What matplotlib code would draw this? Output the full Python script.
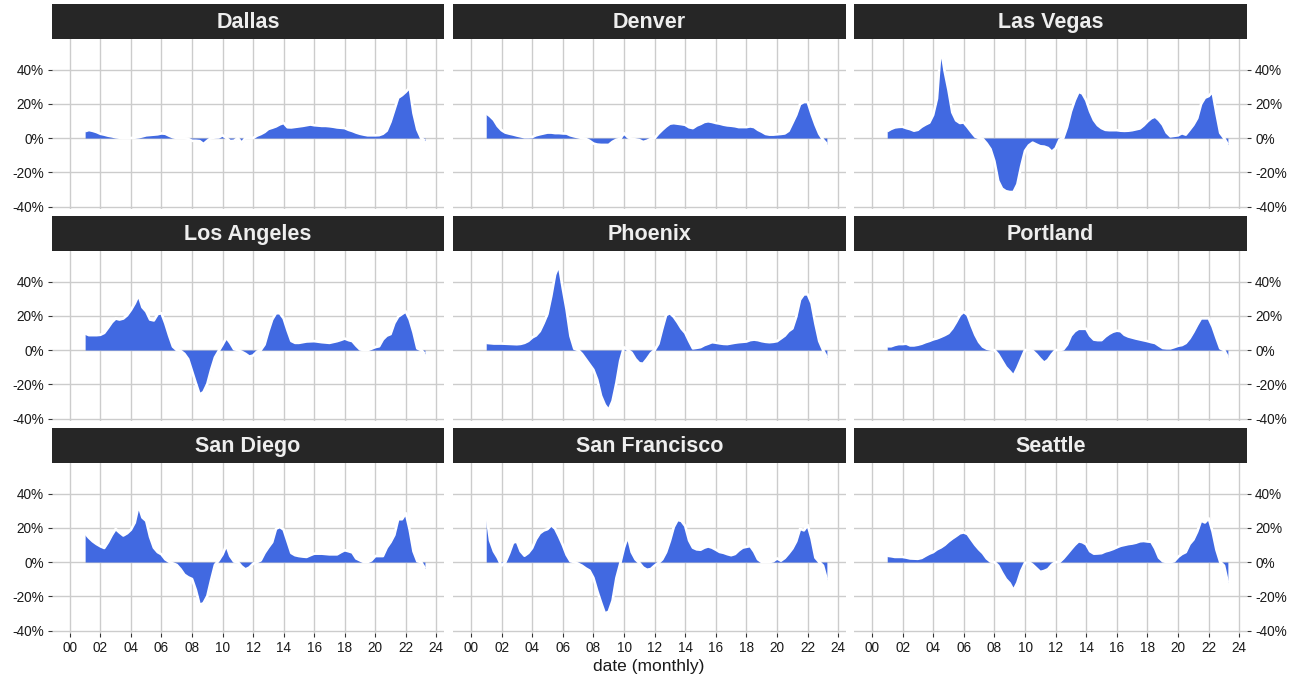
import numpy as np
import pandas as pd
import matplotlib
matplotlib.use("Agg")
import matplotlib.pyplot as plt

plt.rcParams['font.family'] = ['Liberation Sans', 'DejaVu Sans']

# ---------------- data (year-over-year change, %, quarterly readings) ----------------
cities = ["Dallas", "Denver", "Las Vegas",
          "Los Angeles", "Phoenix", "Portland",
          "San Diego", "San Francisco", "Seattle"]

dates = pd.date_range("2001-01-01", "2023-04-01", freq="QS")
x_years = np.array([d.year + (d.month - 1) / 12 for d in dates])

dallas = [
    4, 4.7, 4.2, 3.5,        # 2001
    2.5, 2, 1.4, 1,          # 2002
    0.5, 0.2, 0, 0,          # 2003
    0, 0.2, 0.5, 1,          # 2004
    1.6, 1.8, 2, 2.2,        # 2005
    2.7, 2.5, 1.4, 0.5,      # 2006
    0, 0, 0, -0.5,           # 2007
    -1.6, -1.6, -1.8, -3.5,  # 2008
    -1.6, 0, 0.3, 0.4,       # 2009
    1.6, 0, -1.8, -1.6,      # 2010
    0, -2.8, 0, 0,           # 2011
    0, 1.4, 2.3, 3.5,        # 2012
    5.3, 6, 6.8, 8,          # 2013
    8.8, 6.3, 6.2, 6.5,      # 2014
    6.8, 7.1, 7.5, 7.9,      # 2015
    7.5, 7.3, 7.1, 7.1,      # 2016
    6.9, 6.6, 6.2, 6,        # 2017
    5.8, 4.8, 4.1, 3.2,      # 2018
    2.5, 2, 1.6, 1.6,        # 2019
    1.6, 1.7, 2.5, 4.3,      # 2020
    9.5, 16.5, 23.5, 25,     # 2021
    27, 29.5, 14.5, 5,       # 2022
    0, -1.5,                 # 2023
]

denver = [
    14.5, 12.8, 10.6, 7,     # 2001
    4.6, 3.2, 2.6, 2.1,      # 2002
    1.5, 1, 0.5, 0.5,        # 2003
    0.6, 1.6, 2.2, 2.7,      # 2004
    3.2, 3.2, 2.9, 2.9,      # 2005
    2.7, 2.6, 1.6, 1,        # 2006
    0.5, 0, -0.5, -1.6,      # 2007
    -3.2, -3.8, -4, -4,      # 2008
    -4, -2.2, -1, -0.5,      # 2009
    2.8, 0.5, -0.5, -0.8,    # 2010
    -1.2, -2.3, -1.6, -0.5,  # 2011
    0, 2.6, 4.8, 6.8,        # 2012
    8.4, 8.7, 8.4, 8.1,      # 2013
    7.7, 6.3, 5.8, 7.3,      # 2014
    8.2, 9.4, 9.8, 9.4,      # 2015
    8.8, 8.4, 7.8, 7.4,      # 2016
    7.2, 6.9, 6.4, 6.4,      # 2017
    6.4, 6.8, 6.4, 4.8,      # 2018
    3.7, 2.4, 2, 2,          # 2019
    2.2, 2.4, 2.7, 4.2,      # 2020
    8.8, 13.5, 19.8, 21,     # 2021
    21, 14, 7.8, 2.5,        # 2022
    -1, -3.5,                # 2023
]

las_vegas = [
    4, 5.3, 6.2, 6.5,        # 2001
    6.6, 5.8, 5.2, 4.3,      # 2002
    4.8, 6.6, 7.9, 9,        # 2003
    13.5, 23, 53, 39,        # 2004
    28, 15, 10.3, 8.8,       # 2005
    9.1, 6.4, 3.5, 0.8,      # 2006
    0, -0.6, -3.2, -6.5,     # 2007
    -13.5, -25, -29.5, -31,  # 2008
    -31.5, -31.5, -27, -16.5,  # 2009
    -7.5, -4.3, -2.7, -3.8,  # 2010
    -4.8, -5, -5.8, -8,      # 2011
    -6, -1, 0, 6.5,          # 2012
    15.5, 22, 27, 26,        # 2013
    22, 15.5, 10.5, 7.5,     # 2014
    5.8, 4.8, 4.6, 4.6,      # 2015
    4.6, 4.3, 4.2, 4.3,      # 2016
    4.6, 5.1, 5.6, 7.4,      # 2017
    9.7, 11.6, 12.5, 10.5,   # 2018
    7.7, 3.2, 1, 1.3,        # 2019
    1.6, 2.8, 2, 4.8,        # 2020
    7.7, 11.6, 19.8, 23.5,   # 2021
    24.5, 27, 14.5, 3,       # 2022
    0, -3.8,                 # 2023
]

los_angeles = [
    9.7, 8.7, 8.7, 8.7,      # 2001
    8.9, 10, 13, 16.2,       # 2002
    18.4, 17.8, 18.4, 20.3,  # 2003
    23.4, 27.2, 32, 25,      # 2004
    22.5, 17.8, 17.3, 21,    # 2005
    21.5, 15.5, 8.4, 2,      # 2006
    0, -0.5, -2.2, -5.3,     # 2007
    -12.3, -19.3, -26, -24.5,  # 2008
    -19.8, -11.5, -4.3, -0.5,  # 2009
    3.2, 7.2, 4.2, 0.5,      # 2010
    0, -1, -2.2, -3.8,       # 2011
    -3.2, -1, 0, 3.2,        # 2012
    11, 17.8, 21.5, 21.5,    # 2013
    18.4, 11.5, 5.3, 4.2,    # 2014
    4.2, 4.6, 5, 5.1,        # 2015
    5.2, 4.9, 4.6, 4.4,      # 2016
    4.2, 4.7, 5.2, 5.9,      # 2017
    6.7, 5.8, 5.2, 2.6,      # 2018
    0.4, 0, 0, 0.8,          # 2019
    1.7, 2.2, 6.2, 8.4,      # 2020
    9.3, 15.7, 19.5, 21,     # 2021
    22.5, 17.8, 10.3, 1,     # 2022
    0, -2.2,                 # 2023
]

phoenix = [
    4.2, 4, 3.8, 3.8,        # 2001
    3.8, 3.7, 3.6, 3.5,      # 2002
    3.4, 3.6, 4.2, 5.3,      # 2003
    7.3, 8.5, 11, 15.7,      # 2004
    21, 31.5, 44, 49.5,      # 2005
    36, 23.5, 8.2, 0.8,      # 2006
    0, -2.2, -5.3, -8.4,     # 2007
    -11.5, -17.3, -26.7, -32,  # 2008
    -35, -29.8, -19.3, -6.3,   # 2009
    1.6, 0, -1.6, -5.3,      # 2010
    -7.7, -8, -5.2, -2,      # 2011
    0, 3.7, 12.4, 20.4,      # 2012
    21.5, 19.4, 16.2, 12.6,  # 2013
    10, 5.3, 1, 1.3,         # 2014
    1.7, 2.9, 3.7, 4.6,      # 2015
    4.3, 3.9, 3.6, 3.5,      # 2016
    3.9, 4.3, 4.6, 4.8,      # 2017
    5, 5.8, 6.1, 5.8,        # 2018
    5.2, 4.8, 4.6, 4.8,      # 2019
    5.2, 6.8, 8.4, 11,       # 2020
    12.6, 19.4, 29.4, 32.5,  # 2021
    32.5, 27.3, 15.4, 5.2,   # 2022
    0, -4.2,                 # 2023
]

portland = [
    2.2, 2.2, 3, 3.5,        # 2001
    3.5, 3.7, 2.7, 2.7,      # 2002
    3.1, 3.7, 4.6, 5.3,      # 2003
    6.2, 6.8, 7.7, 8.7,      # 2004
    9.9, 12.6, 16.3, 20.4,   # 2005
    22.3, 20.4, 14.4, 8.9,   # 2006
    4.7, 2, 0.8, 0.3,        # 2007
    0, -2.6, -6.3, -10,      # 2008
    -12.4, -15, -10.5, -5.2, # 2009
    0, 0, -0.5, -2.6,        # 2010
    -5.2, -7.4, -5.8, -2.6,  # 2011
    0, 0, 0.4, 3.2,          # 2012
    8.4, 11, 12.4, 12.4,     # 2013
    12.4, 8.4, 6.1, 5.8,     # 2014
    5.8, 7.9, 9.5, 10.7,     # 2015
    11.3, 11, 8.9, 7.9,      # 2016
    7.3, 6.7, 6.2, 5.7,      # 2017
    5.2, 4.6, 4.1, 2.6,      # 2018
    1.2, 1, 1, 1.7,          # 2019
    2.5, 2.9, 4.1, 6.8,      # 2020
    10.5, 14.7, 18.5, 18.5,  # 2021
    18.5, 13.7, 7.2, 1,      # 2022
    0, -4.1,                 # 2023
]

san_diego = [
    16.8, 14.2, 12.1, 10.5,  # 2001
    9.2, 8.2, 11.6, 15.8,    # 2002
    19.3, 17.3, 15.5, 16.8,  # 2003
    18.9, 23, 33, 26,        # 2004
    24, 14.7, 8.4, 5.8,      # 2005
    4.5, 1.6, 0.2, -0.8,     # 2006
    -1.7, -4.2, -7.4, -8.9,  # 2007
    -9.9, -16.3, -25, -24,   # 2008
    -19.9, -10.5, -1.7, 1,   # 2009
    4.5, 9.8, 3.5, 0.3,      # 2010
    0, -2.6, -4.3, -3.2,     # 2011
    -1, 0, 1, 5.3,           # 2012
    8.6, 11.6, 19.4, 20.5,   # 2013
    18.9, 12.1, 5.3, 4,      # 2014
    3.5, 3.2, 3, 4,          # 2015
    4.9, 4.9, 4.9, 4.7,      # 2016
    4.5, 4.5, 4.5, 5.8,      # 2017
    6.9, 6.3, 5.6, 2.1,      # 2018
    1, 0, 0, 1,              # 2019
    3.5, 3.5, 3.5, 8.4,      # 2020
    11.6, 15.8, 25, 25,      # 2021
    28.5, 18.9, 6.3, 0.5,    # 2022
    0, -3.7,                 # 2023
]

san_francisco = [
    29, 12.6, 6.3, 2.6,      # 2001
    -2.1, 0, 5.1, 11.3,      # 2002
    12, 6.3, 3.7, 5.3,       # 2003
    8.2, 13.3, 16.8, 18.4,   # 2004
    19.2, 21.5, 19.5, 15,    # 2005
    10, 4.2, 0.5, 0,         # 2006
    -1, -2.1, -3.7, -5,      # 2007
    -9.2, -16.8, -23.6, -30,  # 2008
    -29, -22.6, -9.4, -1,    # 2009
    8.4, 15, 5.8, 1.6,       # 2010
    -0.5, -3.2, -4.5, -4.1,  # 2011
    -2.1, -0.5, 1.6, 5.8,    # 2012
    12.4, 20.4, 24.6, 24,    # 2013
    21, 12.6, 8.4, 7.4,      # 2014
    7.2, 8.4, 9.1, 8.4,      # 2015
    7.2, 5.9, 5.4, 4.6,      # 2016
    4, 4.7, 6.8, 8.4,        # 2017
    8.9, 9.3, 6.1, 1.6,      # 2018
    0, 0, 0, 0.5,            # 2019
    2.1, 0.8, 2.4, 5,        # 2020
    7.9, 12.1, 19.4, 18.5,   # 2021
    21.6, 13.7, 2.6, 0,      # 2022
    -2.1, -10.3,             # 2023
]

seattle = [
    3.7, 3.4, 3, 3,          # 2001
    3, 2.6, 2.1, 2,          # 2002
    1.9, 2.4, 3.7, 4.9,      # 2003
    5.8, 7.4, 8.5, 10,       # 2004
    12, 13.7, 15.2, 16.8,    # 2005
    17.3, 16.3, 13.1, 10,    # 2006
    7.4, 5.2, 2.1, 0.3,      # 2007
    0, -2.1, -6.3, -10,      # 2008
    -12.4, -16.5, -12.1, -5.2,  # 2009
    -0.5, 0, -1.6, -3.7,     # 2010
    -5.8, -5.2, -4.2, -1.6,  # 2011
    0, 0, 2.1, 4.7,          # 2012
    7.4, 10, 12.1, 11.6,     # 2013
    10.3, 6.3, 4.9, 5,       # 2014
    5.2, 6.2, 6.8, 7.6,      # 2015
    8.6, 9.5, 10, 10.5,      # 2016
    10.8, 11.3, 12.1, 12.3,  # 2017
    12, 11.8, 7.9, 2.6,      # 2018
    0.5, 0, 0, 0.5,          # 2019
    3, 4.7, 5.8, 10.5,       # 2020
    13.1, 17.8, 24.2, 23.1,  # 2021
    25.5, 17.8, 7.2, 0,      # 2022
    -2.1, -12,               # 2023
]

series = [dallas, denver, las_vegas, los_angeles, phoenix, portland,
          san_diego, san_francisco, seattle]

y_ticks = [-40, -20, 0, 20, 40]
y_tick_labels = [f"{v}%" for v in y_ticks]
x_ticks = list(range(2000, 2025, 2))
x_tick_labels = [f"{t % 100:02d}" for t in x_ticks]

# ---------------- layout & style ----------------
W, H = 1300, 680
fig = plt.figure(figsize=(W / 100, H / 100), dpi=100)
fig.patch.set_facecolor("white")

col_x = [(52, 444), (453, 846), (854, 1247)]
row_y = [(39, 209), (251, 421), (463, 633)]
strip_h = 35

fill_color = "#4169E1"
grid_color = "#CCCCCC"
strip_color = "#262626"
tick_kw = dict(length=2.9, width=0.8, color="#333333",
               labelsize=9.8, labelcolor="#1A1A1A", pad=3)

for i, (city, vals) in enumerate(zip(cities, series)):
    r, c = divmod(i, 3)
    x0, x1 = col_x[c]
    y0, y1 = row_y[r]
    ax = fig.add_axes([x0 / W, 1 - y1 / H, (x1 - x0) / W, (y1 - y0) / H])
    sax = fig.add_axes([x0 / W, 1 - y0 / H, (x1 - x0) / W, strip_h / H])

    # strip
    sax.set_facecolor(strip_color)
    sax.set_xticks([])
    sax.set_yticks([])
    for s in sax.spines.values():
        s.set_visible(False)
    sax.text(0.5, 0.46, city, ha="center", va="center", color="#EEEEEE",
             fontsize=15.5, fontweight="bold", transform=sax.transAxes)

    # data
    xv = x_years[:len(vals)]
    yv = np.array(vals, dtype=float)
    ax.fill_between(xv, 0, yv, color=fill_color, lw=0, zorder=2)
    ax.plot(xv, yv, color="white", lw=1.9, solid_capstyle="butt",
            solid_joinstyle="round", zorder=3)

    ax.set_xlim(1998.83, 2024.5)
    ax.set_ylim(-41.4, 57.8)
    ax.set_xticks(x_ticks)
    ax.set_yticks(y_ticks)
    ax.grid(True, color=grid_color, lw=1.0, zorder=0)
    ax.set_axisbelow(True)
    for s in ax.spines.values():
        s.set_visible(False)
    ax.set_facecolor("white")

    # y axis labels
    if c == 0:
        ax.set_yticklabels(y_tick_labels)
        ax.tick_params(axis="y", **tick_kw)
    elif c == 2:
        ax.yaxis.tick_right()
        ax.set_yticklabels(y_tick_labels)
        ax.tick_params(axis="y", **tick_kw)
    else:
        ax.tick_params(axis="y", length=0, labelleft=False)

    # x axis labels
    if r == 2:
        ax.set_xticklabels(x_tick_labels)
        ax.tick_params(axis="x", **tick_kw)
    else:
        ax.tick_params(axis="x", length=0, labelbottom=False)

fig.text(649 / W, 1 - 667 / H, "date (monthly)", ha="center", va="center",
         fontsize=12.5, color="#1A1A1A")

fig.savefig("out.png", dpi=100, facecolor="white")
